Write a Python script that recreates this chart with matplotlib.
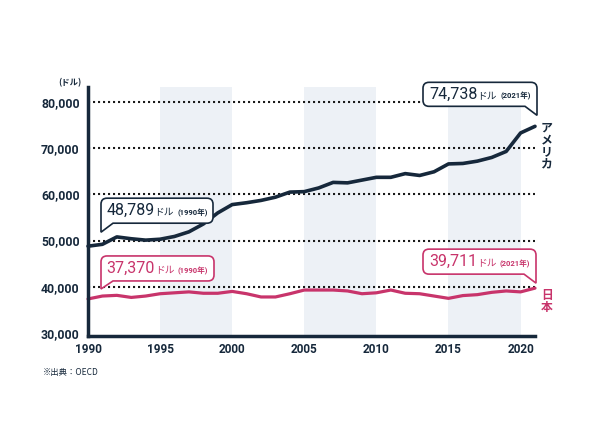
import matplotlib
matplotlib.use('Agg')
import matplotlib.pyplot as plt
from matplotlib import font_manager
from matplotlib.path import Path
from matplotlib.patches import PathPatch
from matplotlib.transforms import IdentityTransform
from matplotlib.offsetbox import TextArea, HPacker, AnnotationBbox
from matplotlib.ticker import FuncFormatter

# GDP per capita (USD)
years = list(range(1990, 2022))
usa = [48789, 49200, 50800, 50400, 50100, 50300, 50900, 51900, 53600, 56000,
       57800, 58200, 58700, 59400, 60500, 60600, 61400, 62600, 62500, 63100,
       63700, 63700, 64500, 64100, 64900, 66600, 66700, 67200, 68000, 69300,
       73300, 74738]
japan = [37370, 38000, 38150, 37700, 38000, 38500, 38700, 38900, 38600, 38600,
         39000, 38500, 37800, 37800, 38500, 39300, 39300, 39300, 39100, 38500,
         38700, 39300, 38600, 38500, 38000, 37500, 38100, 38300, 38800, 39100,
         38900, 39711]

x_ticks = [1990, 1995, 2000, 2005, 2010, 2015, 2020]
y_ticks = [30000, 40000, 50000, 60000, 70000, 80000]
grid_levels = [40000, 50000, 60000, 70000, 80000]
band_starts = [1995, 2005, 2015]

NAVY = '#16283b'
PINK = '#c8346b'
BAND = '#edf1f6'

installed = {f.name for f in font_manager.fontManager.ttflist}
NUM_FONT = 'Liberation Sans Narrow' if 'Liberation Sans Narrow' in installed else 'Roboto'
JP_FONT = 'Noto Sans CJK JP'
MIXED = [NUM_FONT, JP_FONT]

fig = plt.figure(figsize=(6, 4.26), dpi=100)
ax = fig.add_axes([88 / 600, 1 - 336 / 426, (535 - 88) / 600, (336 - 87) / 426])
ax.set_xlim(1990, 2021)
ax.set_ylim(29350, 83250)

# shaded 5-year bands
for start in band_starts:
    ax.axvspan(start, start + 5, color=BAND, lw=0, zorder=0)

# dotted grid
ax.hlines(grid_levels, 1990, 2021, colors='#1a1a1a', lw=1.5,
          linestyles=(0, (1, 1.4)), zorder=1)

ax.plot(years, usa, color=NAVY, lw=2.6, solid_joinstyle='round',
        solid_capstyle='round', zorder=4, clip_on=False)
ax.plot(years, japan, color=PINK, lw=2.3, solid_joinstyle='round',
        solid_capstyle='round', zorder=4, clip_on=False)

for side in ['top', 'right']:
    ax.spines[side].set_visible(False)
for side in ['left', 'bottom']:
    ax.spines[side].set_color(NAVY)
    ax.spines[side].set_linewidth(2.5)
    ax.spines[side].set_zorder(5)

ax.set_xticks(x_ticks)
ax.set_yticks(y_ticks)
ax.yaxis.set_major_formatter(FuncFormatter(lambda v, p: f'{int(v):,}'))
ax.tick_params(length=0, colors=NAVY)
ax.tick_params(axis='y', pad=6)
ax.tick_params(axis='x', pad=5)
for lab in ax.get_yticklabels():
    lab.set_fontfamily(NUM_FONT)
    lab.set_fontweight('bold')
    lab.set_fontsize(8.8)
for lab in ax.get_xticklabels():
    lab.set_fontfamily(NUM_FONT)
    lab.set_fontweight('bold')
    lab.set_fontsize(8.5)


def callout(x, y, dx, dy, w, h, tail, side, color, big, year_label):
    """Speech-bubble label; offsets in pixels from the data point to the tail tip."""
    px, py = ax.transData.transform((x, y))
    tx, ty = px + dx, py + dy
    b = ty + tail
    t = b + h
    r = 6
    tw = 12
    if side == 'left':
        L, R = tx, tx + w
        verts = [(L + tw, b), (R - r, b), (R, b), (R, b + r), (R, t - r), (R, t),
                 (R - r, t), (L + r, t), (L, t), (L, t - r), (L, ty), (L + tw, b)]
    else:
        L, R = tx - w, tx
        verts = [(R - tw, b), (L + r, b), (L, b), (L, b + r), (L, t - r), (L, t),
                 (L + r, t), (R - r, t), (R, t), (R, t - r), (R, ty), (R - tw, b)]
    codes = [Path.MOVETO, Path.LINETO, Path.CURVE3, Path.CURVE3, Path.LINETO,
             Path.CURVE3, Path.CURVE3, Path.LINETO, Path.CURVE3, Path.CURVE3,
             Path.LINETO, Path.CLOSEPOLY]
    patch = PathPatch(Path(verts, codes), transform=IdentityTransform(),
                      facecolor='white', edgecolor=color, lw=1.2, zorder=6)
    fig.add_artist(patch)

    value_unit = HPacker(children=[
        TextArea(f'{big:,}', textprops=dict(fontsize=11.5, color=color, family=MIXED)),
        TextArea('ドル', textprops=dict(fontsize=7, color=color, family=[JP_FONT])),
    ], align='baseline', pad=0, sep=0)
    parts = HPacker(children=[
        value_unit,
        TextArea(f'({year_label}年)', textprops=dict(fontsize=5.5, color=color,
                                                    family=MIXED, weight='bold')),
    ], align='baseline', pad=0, sep=2.5)
    ab = AnnotationBbox(parts, ((L + R) / 2, (b + t) / 2), xycoords='figure pixels',
                        box_alignment=(0.5, 0.5), frameon=False, pad=0, zorder=7)
    fig.add_artist(ab)


callout(years[0], usa[0], 13, 14, 112, 25, 9, 'left', NAVY, usa[0], years[0])
callout(years[-1], usa[-1], 2, 11, 114, 24, 9, 'right', NAVY, usa[-1], years[-1])
callout(years[0], japan[0], 13, 10, 113, 25, 8, 'left', PINK, japan[0], years[0])
callout(years[-1], japan[-1], 1, 5, 113, 25, 9, 'right', PINK, japan[-1], years[-1])

ax.annotate('ア\nメ\nリ\nカ', xy=(years[-1], usa[-1]), xytext=(6, 5),
            textcoords='offset pixels', ha='left', va='top', fontsize=8.5,
            linespacing=0.9, color=NAVY, family=[JP_FONT], weight='bold',
            annotation_clip=False)
ax.annotate('日\n本', xy=(years[-1], japan[-1]), xytext=(6, -1),
            textcoords='offset pixels', ha='left', va='top', fontsize=8.5,
            linespacing=0.9, color=PINK, family=[JP_FONT], weight='bold',
            annotation_clip=False)

fig.text(70 / 600, 1 - 83 / 426, '(ドル)', ha='center', va='center', fontsize=6,
         color=NAVY, family=[JP_FONT], weight='bold')
fig.text(43 / 600, 1 - 373 / 426, '※出典：OECD', ha='left', va='center', fontsize=6,
         color=NAVY, family=[JP_FONT])

fig.savefig('out.png', dpi=100)
